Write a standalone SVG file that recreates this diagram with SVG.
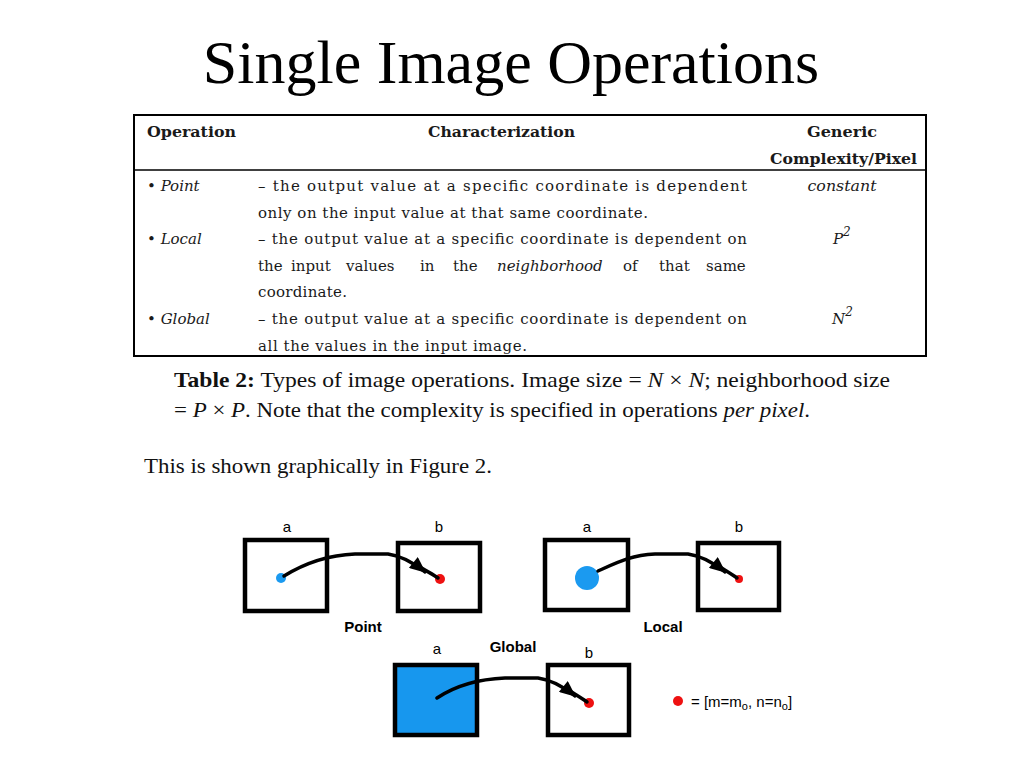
<svg xmlns="http://www.w3.org/2000/svg" width="1024" height="768" viewBox="0 0 1024 768">
<defs>
<style>
.title{font-family:"Liberation Serif","Times New Roman",serif;font-size:62px;fill:#000}
.tb{font-family:"DejaVu Serif",serif;font-size:15px;fill:#1a1a1a}
.tbh{font-family:"DejaVu Serif",serif;font-size:14.5px;font-weight:bold;fill:#1a1a1a}
.it{font-style:italic}
.cap{font-family:"Liberation Serif","Times New Roman",serif;font-size:21.5px;fill:#111}
.lbl{font-family:"Liberation Sans",Arial,sans-serif;font-size:15px;fill:#000}
.lblb{font-family:"Liberation Sans",Arial,sans-serif;font-size:15px;font-weight:bold;fill:#000}
.box{fill:#fff;stroke:#000;stroke-width:4.5}
.boxf{fill:#1797ee;stroke:#000;stroke-width:4.5}
.conn{fill:none;stroke:#000;stroke-width:3.5;stroke-linecap:round}
.blue{fill:#1b9af0}
.red{fill:#ee1111}
</style>
<marker id="arr" markerUnits="userSpaceOnUse" viewBox="0 0 16 14" refX="15" refY="7" markerWidth="17" markerHeight="14" orient="auto">
<path d="M0,0 L16,7 L0,14 z" fill="#000"/>
</marker>
</defs>
<rect width="1024" height="768" fill="#fff"/>
<text class="title" x="511" y="83" text-anchor="middle">Single Image Operations</text>

<g id="table">
<rect x="134" y="115" width="792" height="241" fill="none" stroke="#000" stroke-width="2"/>
<line x1="134" y1="170" x2="926" y2="170" stroke="#000" stroke-width="1.5"/>
<text class="tbh" x="147" y="137" textLength="89" lengthAdjust="spacingAndGlyphs">Operation</text>
<text class="tbh" x="428" y="137" textLength="147" lengthAdjust="spacingAndGlyphs">Characterization</text>
<text class="tbh" x="807" y="137" textLength="70" lengthAdjust="spacingAndGlyphs">Generic</text>
<text class="tbh" x="770" y="164" textLength="147" lengthAdjust="spacingAndGlyphs">Complexity/Pixel</text>

<text class="tb" x="147" y="191">• <tspan class="it">Point</tspan></text>
<text class="tb" x="258" y="191" textLength="489" lengthAdjust="spacing">– the output value at a specific coordinate is  dependent</text>
<text class="tb it" x="842" y="191" text-anchor="middle" textLength="69" lengthAdjust="spacingAndGlyphs">constant</text>
<text class="tb" x="258" y="218" textLength="390" lengthAdjust="spacing">only on the input value at that same coordinate.</text>

<text class="tb" x="147" y="244">• <tspan class="it">Local</tspan></text>
<text class="tb" x="258" y="244" textLength="489" lengthAdjust="spacing">– the output value at a specific coordinate is dependent on</text>
<text class="tb it" x="833" y="244">P<tspan dy="-8" font-size="12px">2</tspan></text>
<text class="tb" y="271"><tspan x="258">the</tspan><tspan x="291">input</tspan><tspan x="346">values</tspan><tspan x="420">in</tspan><tspan x="453">the</tspan><tspan x="497" class="it">neighborhood</tspan><tspan x="623">of</tspan><tspan x="659">that</tspan><tspan x="706">same</tspan></text>
<text class="tb" x="258" y="297" textLength="89" lengthAdjust="spacing">coordinate.</text>

<text class="tb" x="147" y="324">• <tspan class="it">Global</tspan></text>
<text class="tb" x="258" y="324" textLength="489" lengthAdjust="spacing">– the output value at a specific coordinate is dependent on</text>
<text class="tb it" x="832" y="324">N<tspan dy="-8" font-size="12px">2</tspan></text>
<text class="tb" x="258" y="351" textLength="269" lengthAdjust="spacing">all the values in the input image.</text>
</g>

<g id="caption">
<text class="cap" x="174" y="387" textLength="716" lengthAdjust="spacingAndGlyphs"><tspan font-weight="bold">Table 2:</tspan> Types of image operations. Image size = <tspan font-style="italic">N</tspan> × <tspan font-style="italic">N</tspan>; neighborhood size</text>
<text class="cap" x="174" y="417" textLength="636" lengthAdjust="spacingAndGlyphs">= <tspan font-style="italic">P</tspan> × <tspan font-style="italic">P</tspan>. Note that the complexity is specified in operations <tspan font-style="italic">per pixel</tspan>.</text>
<text class="cap" x="144" y="473" textLength="348" lengthAdjust="spacingAndGlyphs">This is shown graphically in Figure 2.</text>
</g>

<g id="point-a">
<rect class="box" x="245" y="540" width="82" height="71"/>
<text class="lbl" x="287" y="532" text-anchor="middle">a</text>
<circle class="blue" cx="281" cy="578" r="5"/>
</g>
<g id="point-b">
<rect class="box" x="398" y="543" width="82" height="68"/>
<text class="lbl" x="439" y="532" text-anchor="middle">b</text>
<circle class="red" cx="440" cy="579" r="5"/>
</g>
<text class="lblb" x="363" y="632" text-anchor="middle">Point</text>

<g id="local-a">
<rect class="box" x="545" y="540" width="83" height="70"/>
<text class="lbl" x="587" y="532" text-anchor="middle">a</text>
<circle class="blue" cx="587" cy="578" r="12"/>
</g>
<g id="local-b">
<rect class="box" x="698" y="543" width="81" height="67"/>
<text class="lbl" x="739" y="532" text-anchor="middle">b</text>
<circle class="red" cx="739" cy="579" r="4"/>
</g>
<text class="lblb" x="663" y="632" text-anchor="middle">Local</text>

<g id="global-a">
<rect class="boxf" x="395" y="665" width="82" height="70"/>
<text class="lbl" x="437" y="654" text-anchor="middle">a</text>
</g>
<g id="global-b">
<rect class="box" x="548" y="665" width="81" height="70"/>
<text class="lbl" x="589" y="658" text-anchor="middle">b</text>
<circle class="red" cx="589" cy="703" r="5"/>
</g>
<text class="lblb" x="513" y="652" text-anchor="middle">Global</text>

<g id="legend">
<circle class="red" cx="678" cy="701" r="5"/>
<text class="lbl" x="691" y="707">= [m=m<tspan font-size="11px" dy="3">o</tspan><tspan dy="-3">, n=n</tspan><tspan font-size="11px" dy="3">o</tspan><tspan dy="-3">]</tspan></text>
</g>

<g id="connectors">
<path class="conn" d="M284,576 C305,563 330,555 355,554 L388,554 C402,556 414,563 425,572" marker-end="url(#arr)"/>
<path class="conn" d="M420,567 C428,572 434,575 438,578"/>
<path class="conn" d="M598,571 C618,562 632,555 655,554 L688,554 C702,556 714,563 725,572" marker-end="url(#arr)"/>
<path class="conn" d="M720,567 C728,572 733,575 737,578"/>
<path class="conn" d="M437,698 C455,686 480,679 505,678 L538,678 C552,680 564,687 575,696" marker-end="url(#arr)"/>
<path class="conn" d="M570,691 C578,696 583,699 587,702"/>
</g>
</svg>
